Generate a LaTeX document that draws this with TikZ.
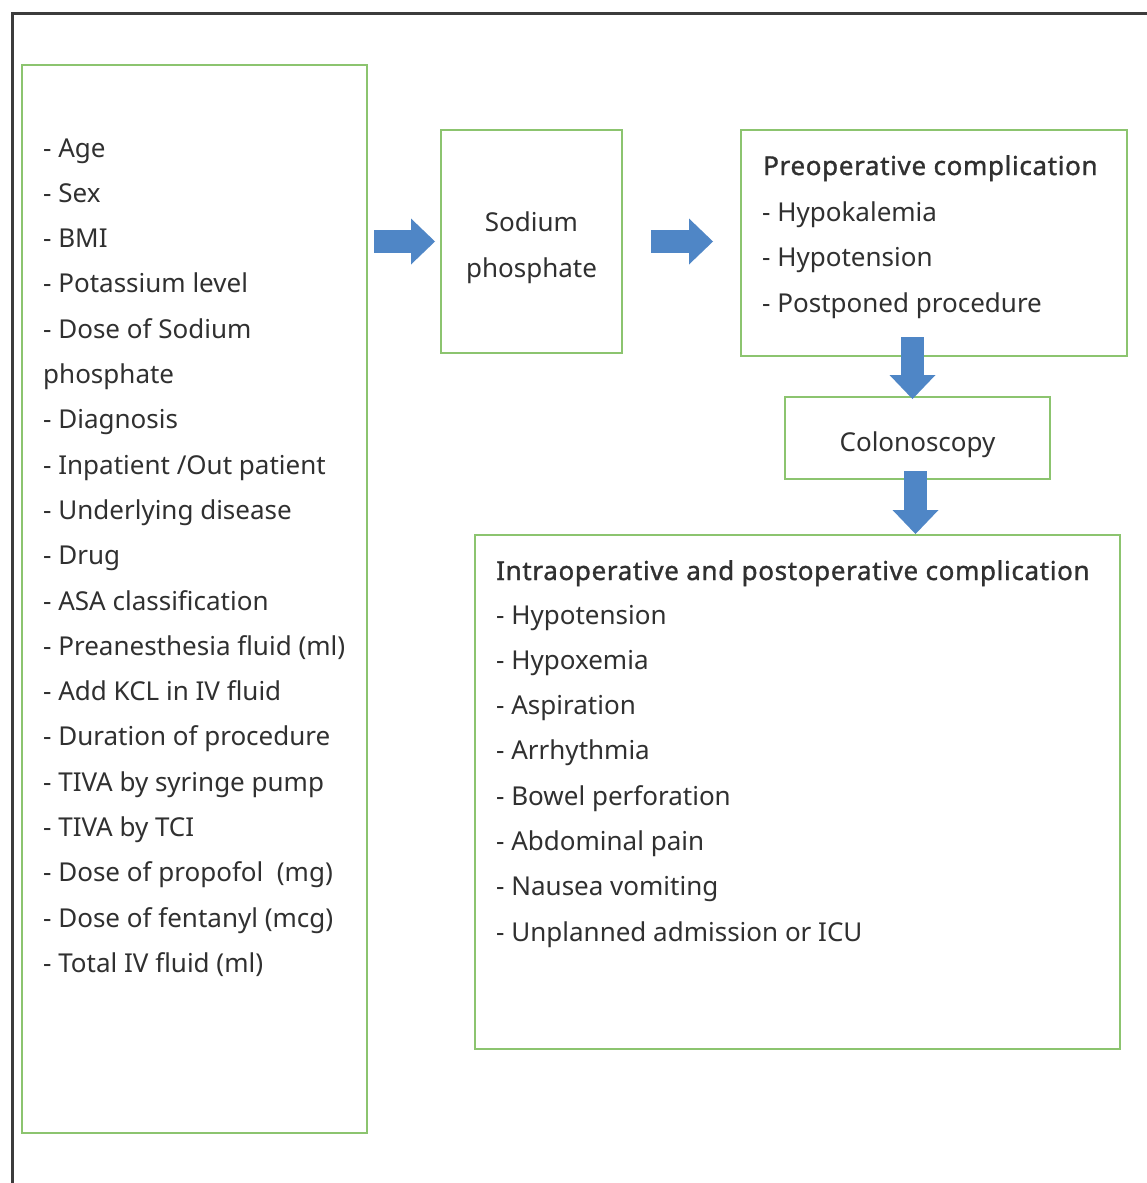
\documentclass[tikz,border=0pt]{standalone}
\usepackage{fontspec}
\setmainfont{Noto Sans}
\newfontfamily\headfont{Noto Sans}[FakeBold=1.2, LetterSpace=2.5]
\usetikzlibrary{arrows.meta,positioning}
\definecolor{boxDraw}{HTML}{8CC46F}
\definecolor{arrFill}{HTML}{4F86C6}
\definecolor{frameDraw}{HTML}{3C3C3C}
\definecolor{txtCol}{HTML}{303030}
\tikzset{
  font=\fontsize{26}{30}\selectfont,
  box/.style  ={draw=boxDraw, line width=2pt, fill=white, inner sep=0pt, text=txtCol},
  item/.style ={anchor=base west, inner sep=0pt, text=txtCol},
  head/.style ={item, font=\fontsize{26}{30}\headfont},
  fat/.style  ={draw=arrFill, line width=23pt, -{Triangle[length=24pt, width=46pt, line width=0pt]}},
}
\begin{document}
\begin{tikzpicture}[x=1pt, y=-1pt]
  \useasboundingbox (0,0) rectangle (1147,1183);
  \node[draw=frameDraw, line width=3pt, anchor=north west, inner sep=0pt,
        minimum width=1200pt, minimum height=1220pt] (frame) at (11,12) {};

  % boxes
  \node[box, minimum width=345pt, minimum height=1068pt] (factors) at (194.5,599) {};
  \node[box, minimum width=181pt, minimum height=223pt]  (sp)      at (531.5,241.5) {};
  \node[box, minimum width=386pt, minimum height=226pt]  (preop)   at (934,243) {};
  \node[box, minimum width=265pt, minimum height=82pt]   (colo)    at (917.5,438) {};
  \node[box, minimum width=645pt, minimum height=514pt]  (intra)   at (797.5,792) {};

  % left list
  \foreach \txt [count=\i from 0] in {- Age, - Sex, - BMI, - Potassium level, - Dose of Sodium,
      phosphate, - Diagnosis, - Inpatient /Out patient, - Underlying disease, - Drug,
      - ASA classification, - Preanesthesia fluid (ml), - Add KCL in IV fluid,
      - Duration of procedure, - TIVA by syringe pump, - TIVA by TCI,
      - Dose of propofol\ \ (mg), - Dose of fentanyl (mcg), - Total IV fluid (ml)}
    \node[item] (f\i) at (43,157+45.3*\i) {\txt};

  \node[item, anchor=base] (sp1) at (531.5,231) {Sodium};
  \node[item, anchor=base] (sp2) at (531.5,277) {phosphate};
  \node[item, anchor=base] (colotxt) at (917.5,451) {Colonoscopy};

  \node[head] (prehead) at (763,175) {Preoperative complication};
  \foreach \txt [count=\i from 0] in {- Hypokalemia, - Hypotension, - Postponed procedure}
    \node[item] (p\i) at (762,221+45.5*\i) {\txt};

  \node[head] (inhead) at (496,580) {Intraoperative and postoperative complication};
  \foreach \txt [count=\i from 0] in {- Hypotension, - Hypoxemia, - Aspiration, - Arrhythmia,
      - Bowel perforation, - Abdominal pain, - Nausea vomiting, - Unplanned admission or ICU}
    \node[item] (c\i) at (496,624+45.3*\i) {\txt};

  % block arrows
  \draw[fat] ([xshift=6pt]factors.east |- sp) -- ([xshift=-5pt]sp.west);
  \draw[fat] ([xshift=28pt]sp.east) -- ([xshift=-27pt]sp.east -| preop.west);
  \draw[fat] ([shift={(-5pt,20pt)}]colo.north |- preop.south) -- ([shift={(-5pt,-3pt)}]colo.north);
  \draw[fat] ([shift={(-2pt,9pt)}]colo.south) -- ([xshift=-2pt]colo.south |- intra.north);
\end{tikzpicture}
\end{document}
